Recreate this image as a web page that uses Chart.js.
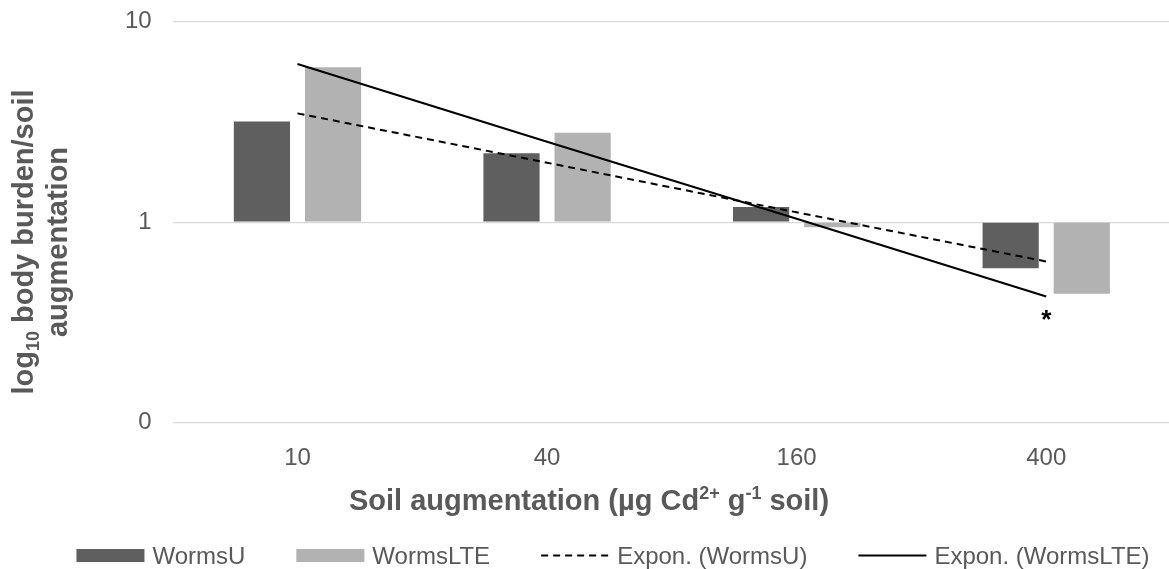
<!DOCTYPE html>
<html>
<head>
<meta charset="utf-8">
<script src="https://cdn.jsdelivr.net/npm/chart.js@4.4.0/dist/chart.umd.min.js"></script>
<style>
  html, body { margin: 0; padding: 0; background: #fff; overflow: hidden; }
  #wrap { width: 1172px; height: 569px; }
</style>
</head>
<body>
<div id="wrap"><canvas id="chart" width="1172" height="569"></canvas></div>
<script>
// data (log scale, bars start at 1)
const categories = ["10", "40", "160", "400"];
const wormsU = [3.18, 2.21, 1.19, 0.59];
const wormsLTE = [5.92, 2.79, 0.944, 0.44];
const exponU = [3.49, 1.98, 1.12, 0.637];
const exponLTE = [6.15, 2.52, 1.04, 0.426];
const yTickValues = [0.1, 1, 10];
const yTickLabels = ["0", "1", "10"];

const xTitle = [
  { t: "Soil augmentation (µg Cd" }, { t: "2+", sup: true },
  { t: " g" }, { t: "-1", sup: true }, { t: " soil)" }
];
const yTitle = [
  [{ t: "log" }, { t: "10", sub: true }, { t: " body burden/soil" }],
  [{ t: "augmentation" }]
];
const note = { text: "*", index: 3 };

const FONT = "'Liberation Sans', Arial, sans-serif";
const TEXT = "#595959";

Chart.defaults.font.family = FONT;
Chart.defaults.color = TEXT;

// rich text helper (sup / sub runs)
function runsWidth(ctx, runs, size) {
  let w = 0;
  runs.forEach((r) => {
    const s = r.sup || r.sub ? size * 0.62 : size;
    ctx.font = "bold " + s + "px " + FONT;
    w += ctx.measureText(r.t).width;
  });
  return w;
}

function drawRuns(ctx, runs, cx, baseY, size) {
  let x = cx - runsWidth(ctx, runs, size) / 2;
  ctx.textAlign = "left";
  ctx.textBaseline = "alphabetic";
  runs.forEach((r) => {
    const s = r.sup || r.sub ? size * 0.62 : size;
    ctx.font = "bold " + s + "px " + FONT;
    let y = baseY;
    if (r.sup) y -= size * 0.36;
    if (r.sub) y += size * 0.2;
    ctx.fillText(r.t, x, y);
    x += ctx.measureText(r.t).width;
  });
}

const extras = {
  id: "extras",
  afterDraw(chart) {
    const ctx = chart.ctx;
    const xs = chart.scales.x;
    const ys = chart.scales.y;
    ctx.save();
    ctx.fillStyle = TEXT;

    // axis titles
    drawRuns(ctx, xTitle, 589, 509.5, 29);
    ctx.save();
    ctx.translate(0, 242);
    ctx.rotate(-Math.PI / 2);
    drawRuns(ctx, yTitle[0], 0, 33.3, 29);
    drawRuns(ctx, yTitle[1], 0, 66.7, 29);
    ctx.restore();

    // significance mark
    ctx.fillStyle = "#000";
    ctx.font = "bold 26px " + FONT;
    ctx.textAlign = "center";
    ctx.textBaseline = "alphabetic";
    ctx.fillText(note.text, xs.getPixelForValue(note.index),
      ys.getPixelForValue(exponLTE[note.index]) + 31);

    // legend
    ctx.font = "24px " + FONT;
    const boxW = 68, gapText = 8, gapItem = 51;
    const items = chart.data.datasets;
    let total = 0;
    items.forEach((d, i) => {
      total += boxW + gapText + ctx.measureText(d.label).width;
      if (i < items.length - 1) total += gapItem;
    });
    let x = 613 - total / 2;
    const cy = 555.5;
    items.forEach((d) => {
      if (d.type === "bar") {
        ctx.fillStyle = d.backgroundColor;
        ctx.fillRect(x, cy - 6.5, boxW, 13);
      } else {
        ctx.strokeStyle = d.borderColor;
        ctx.lineWidth = 2;
        ctx.setLineDash(d.borderDash || []);
        ctx.beginPath();
        ctx.moveTo(x, cy);
        ctx.lineTo(x + boxW, cy);
        ctx.stroke();
        ctx.setLineDash([]);
      }
      x += boxW + gapText;
      ctx.fillStyle = TEXT;
      ctx.textAlign = "left";
      ctx.textBaseline = "alphabetic";
      ctx.fillText(d.label, x, cy + 8.6);
      x += ctx.measureText(d.label).width + gapItem;
    });
    ctx.restore();
  }
};

new Chart(document.getElementById("chart"), {
  data: {
    labels: categories,
    datasets: [
      {
        type: "bar", label: "WormsU", data: wormsU, base: 1,
        backgroundColor: "#5f5f5f", order: 2
      },
      {
        type: "bar", label: "WormsLTE", data: wormsLTE, base: 1,
        backgroundColor: "#b2b2b2", order: 2
      },
      {
        type: "line", label: "Expon. (WormsU)", data: exponU,
        borderColor: "#000", borderWidth: 2, borderDash: [7, 5],
        pointRadius: 0, fill: false, order: 1
      },
      {
        type: "line", label: "Expon. (WormsLTE)", data: exponLTE,
        borderColor: "#000", borderWidth: 2,
        pointRadius: 0, fill: false, order: 1
      }
    ]
  },
  options: {
    responsive: false,
    animation: false,
    layout: { padding: { top: 0, right: 1, bottom: 0, left: 0 } },
    datasets: { bar: { categoryPercentage: 0.57, barPercentage: 0.79 } },
    plugins: { legend: { display: false }, tooltip: { enabled: false } },
    scales: {
      x: {
        grid: { display: false },
        border: { display: false },
        ticks: { font: { size: 24 }, color: TEXT, padding: 13 },
        afterFit: (s) => { s.height = 146.3; }
      },
      y: {
        type: "logarithmic",
        min: 0.1,
        max: 10,
        grid: { color: "#d9d9d9", lineWidth: 1.3, drawTicks: false },
        border: { display: false },
        ticks: {
          font: { size: 24 }, color: TEXT, padding: 21,
          callback: (v, i) => yTickLabels[i]
        },
        afterBuildTicks: (s) => { s.ticks = yTickValues.map((v) => ({ value: v })); },
        afterFit: (s) => {
          s.width = 172.7;
          s.paddingTop = 21.7;
          s.paddingBottom = 0;
        }
      }
    }
  },
  plugins: [extras]
});
</script>
</body>
</html>
